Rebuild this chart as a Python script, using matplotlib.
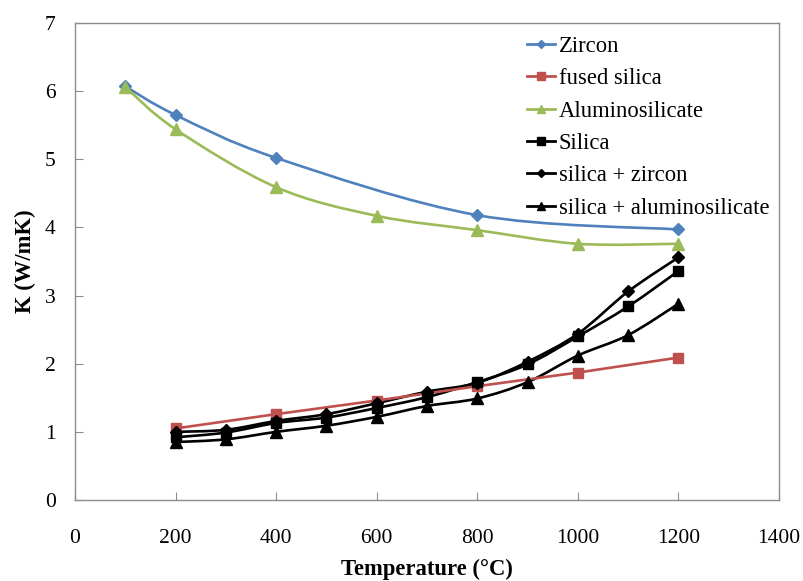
import matplotlib
matplotlib.use("Agg")
import matplotlib.pyplot as plt
from matplotlib.path import Path
from matplotlib.patches import PathPatch
from matplotlib.lines import Line2D
import numpy as np

plt.rcParams['font.family'] = ['Liberation Serif', 'DejaVu Serif']

temps_zircon = [100, 200, 400, 800, 1200]
zircon = [6.07, 5.65, 5.02, 4.18, 3.97]

temps_alumino = [100, 200, 400, 600, 800, 1000, 1200]
alumino = [6.06, 5.44, 4.59, 4.17, 3.96, 3.76, 3.76]

temps_fused = [200, 400, 600, 800, 1000, 1200]
fused = [1.05, 1.26, 1.46, 1.67, 1.87, 2.09]

temps_mix = [200, 300, 400, 500, 600, 700, 800, 900, 1000, 1100, 1200]
silica = [0.92, 0.99, 1.13, 1.21, 1.35, 1.51, 1.73, 1.99, 2.40, 2.84, 3.36]
silica_zircon = [1.00, 1.03, 1.16, 1.26, 1.42, 1.59, 1.72, 2.03, 2.44, 3.06, 3.56]
silica_alumino = [0.85, 0.89, 1.00, 1.09, 1.22, 1.38, 1.49, 1.73, 2.12, 2.42, 2.88]

series = [
    ("Zircon", temps_zircon, zircon, "#4F81BD", "D", 6, True),
    ("fused silica", temps_fused, fused, "#C0504D", "s", 7, False),
    ("Aluminosilicate", temps_alumino, alumino, "#9BBB59", "^", 8, True),
    ("Silica", temps_mix, silica, "black", "s", 7.5, True),
    ("silica + zircon", temps_mix, silica_zircon, "black", "D", 6, True),
    ("silica + aluminosilicate", temps_mix, silica_alumino, "black", "^", 8, True),
]

fig = plt.figure(figsize=(8.04, 5.81), dpi=100)
ax = fig.add_axes([75/804, 81/581, 704/804, 477/581])


def smooth_path(ax, xs, ys, color, lw):
    # Excel-like smoothed line drawn as cubic Bezier segments in display space
    pts = ax.transData.transform(np.column_stack([xs, ys]))
    n = len(pts)
    verts = [pts[0]]
    codes = [Path.MOVETO]
    for i in range(n - 1):
        p0 = pts[i - 1] if i > 0 else pts[i]
        p1 = pts[i]
        p2 = pts[i + 1]
        p3 = pts[i + 2] if i + 2 < n else pts[i + 1]
        c1 = p1 + (p2 - p0) / 6.0
        c2 = p2 - (p3 - p1) / 6.0
        verts += [c1, c2, p2]
        codes += [Path.CURVE4] * 3
    path = Path(verts, codes)
    patch = PathPatch(path, facecolor='none', edgecolor=color, lw=lw,
                      transform=None, capstyle='round', joinstyle='round')
    ax.add_artist(patch)


ax.set_xlim(0, 1400)
ax.set_ylim(0, 7)
fig.canvas.draw()

handles = []
for label, xs, ys, color, marker, ms, smooth in series:
    if smooth:
        smooth_path(ax, xs, ys, color, 1.9)
        ax.plot(xs, ys, ls='none', marker=marker, ms=ms, color=color, zorder=3)
    else:
        ax.plot(xs, ys, ls='-', lw=1.9, marker=marker, ms=ms, color=color, zorder=3)
    handles.append(Line2D([], [], color=color, lw=2.0, marker=marker, ms=ms * 0.75, label=label))

ax.set_xticks(np.arange(0, 1401, 200))
ax.set_yticks(np.arange(0, 8, 1))
for s in ax.spines.values():
    s.set_color('#8c8c8c')
    s.set_linewidth(1.0)
ax.tick_params(direction='in', length=6, color='#8c8c8c', labelsize=15.5)
ax.tick_params(axis='y', pad=14)
ax.tick_params(axis='x', pad=21)

ax.set_xlabel("Temperature (\u00b0C)", fontsize=16.3, fontweight='bold', labelpad=8)
ax.set_ylabel("K (W/mK)", fontsize=16.3, fontweight='bold', labelpad=6)

leg = ax.legend(handles=handles, loc='upper left', bbox_to_anchor=(527/804, 1 - 36/581),
                bbox_transform=fig.transFigure, frameon=False, fontsize=16.3,
                handlelength=1.25, handletextpad=0.15, labelspacing=0.5,
                borderpad=0, borderaxespad=0)

fig.savefig("out.png", dpi=100)
